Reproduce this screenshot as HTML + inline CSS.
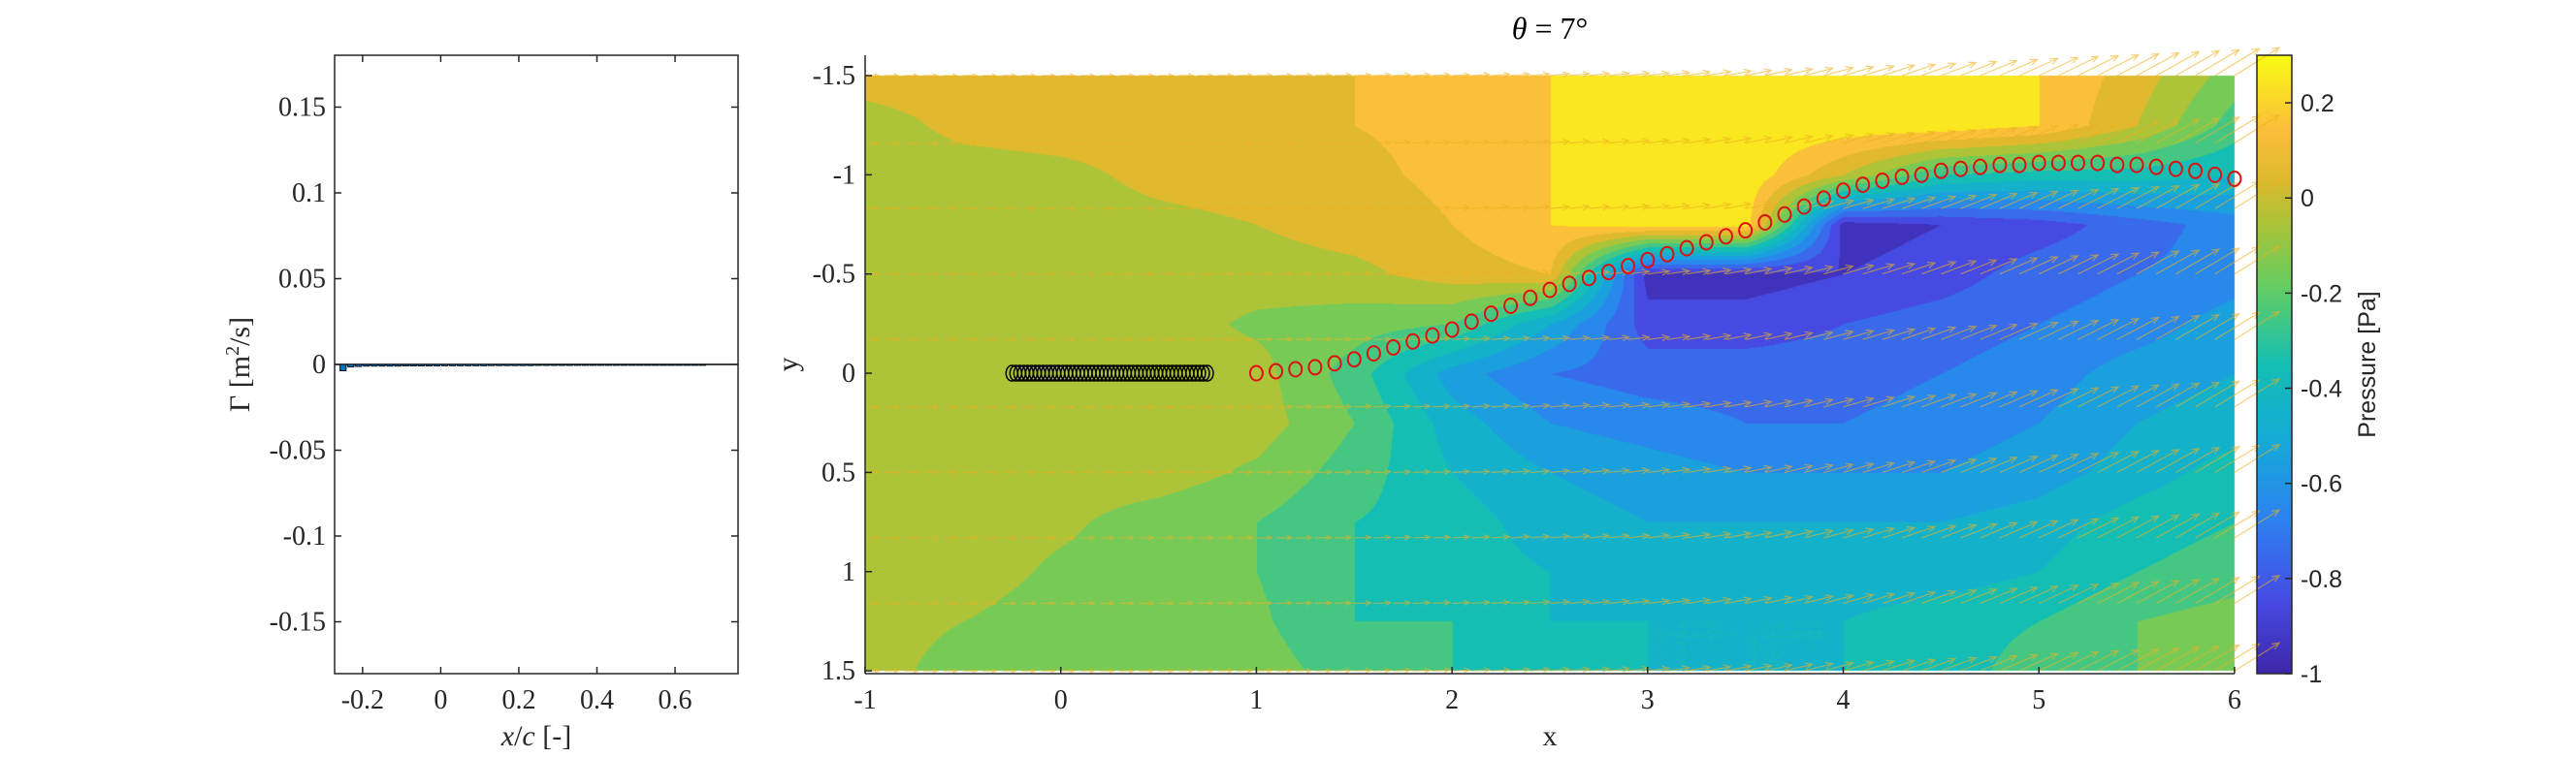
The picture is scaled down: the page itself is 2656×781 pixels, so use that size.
<!DOCTYPE html>
<html><head><meta charset="utf-8"><style>
body{margin:0;background:#fff;}
#wrap{position:relative;width:2656px;height:781px;overflow:hidden;}
canvas,svg{position:absolute;left:0;top:0;}
</style></head><body>
<div id="wrap">
<canvas id="cv" width="2656" height="781"></canvas>
<svg id="sv" width="2656" height="781" xmlns="http://www.w3.org/2000/svg"></svg>
</div>
<script>
// ---------- data ----------
const barX=[-0.25,-0.23,-0.21,-0.19,-0.17,-0.15,-0.13,-0.11,-0.09,-0.07,-0.05,-0.03,-0.01,0.01,0.03,0.05,0.07,0.09,0.11,0.13,0.15,0.17,0.19,0.21,0.23,0.25,0.27,0.29,0.31,0.33,0.35,0.37,0.39,0.41,0.43,0.45,0.47,0.49,0.51,0.53,0.55,0.57,0.59,0.61,0.63,0.65,0.67];
const barVals=[-0.0037,-0.0015,-0.0012,-0.001,-0.001,-0.001,-0.001,-0.001,-0.0009,-0.0009,-0.0009,-0.0009,-0.0009,-0.0008,-0.0008,-0.0008,-0.0008,-0.0008,-0.0008,-0.0007,-0.0007,-0.0007,-0.0007,-0.0007,-0.0007,-0.0006,-0.0006,-0.0006,-0.0006,-0.0006,-0.0005,-0.0005,-0.0005,-0.0005,-0.0005,-0.0004,-0.0004,-0.0004,-0.0004,-0.0004,-0.0004,-0.0003,-0.0003,-0.0003,-0.0003,-0.0003,-0.0003];
const leftXTicks=[-0.2,0,0.2,0.4,0.6];
const leftYTicks=[0.15,0.1,0.05,0,-0.05,-0.1,-0.15];
const leftYLabels=["0.15","0.1","0.05","0","-0.05","-0.1","-0.15"];
const gridX=[-1,-0.5,0,0.5,1,1.5,2,2.5,3,3.5,4,4.5,5,5.5,6];
const gridY=[-1.5,-1.25,-1,-0.75,-0.5,-0.25,0,0.25,0.5,0.75,1,1.25,1.5];
const pressure=[
[0.05,0.05,0.05,0.05,0.05,0.1,0.12,0.2,0.28,0.28,0.28,0.28,0.2,0.05,-0.15],
[-0.05,0.03,0.05,0.05,0.05,0.1,0.12,0.2,0.28,0.28,0.27,0.27,0.2,0.0,-0.25],
[-0.05,-0.05,-0.03,0.03,0.05,0.08,0.12,0.2,0.28,0.28,0.0,-0.3,-0.35,-0.35,-0.4],
[-0.05,-0.05,-0.05,-0.03,0.0,0.05,0.1,0.2,0.25,0.25,-0.95,-0.9,-0.85,-0.75,-0.65],
[-0.05,-0.05,-0.05,-0.05,-0.05,-0.03,0.05,0.1,-0.95,-0.95,-0.9,-0.85,-0.75,-0.7,-0.65],
[-0.05,-0.05,-0.05,-0.05,-0.12,-0.15,-0.2,-0.5,-0.85,-0.85,-0.8,-0.75,-0.7,-0.65,-0.55],
[-0.05,-0.05,-0.05,-0.05,-0.06,-0.25,-0.55,-0.7,-0.75,-0.75,-0.75,-0.7,-0.65,-0.55,-0.5],
[-0.05,-0.05,-0.05,-0.05,-0.05,-0.2,-0.45,-0.6,-0.65,-0.7,-0.7,-0.65,-0.6,-0.5,-0.45],
[-0.05,-0.05,-0.05,-0.05,-0.12,-0.25,-0.4,-0.5,-0.55,-0.6,-0.6,-0.6,-0.55,-0.45,-0.35],
[-0.05,-0.05,-0.08,-0.15,-0.2,-0.3,-0.35,-0.45,-0.5,-0.5,-0.5,-0.5,-0.45,-0.35,-0.3],
[-0.05,-0.05,-0.12,-0.15,-0.2,-0.3,-0.35,-0.4,-0.45,-0.45,-0.45,-0.45,-0.4,-0.3,-0.25],
[-0.05,-0.1,-0.15,-0.15,-0.18,-0.3,-0.3,-0.4,-0.4,-0.4,-0.4,-0.35,-0.3,-0.2,-0.15],
[-0.05,-0.15,-0.15,-0.15,-0.15,-0.25,-0.3,-0.35,-0.4,-0.4,-0.4,-0.35,-0.25,-0.2,-0.15]];
const wakeX=[1.0,1.1,1.2,1.3,1.4,1.5,1.6,1.7,1.8,1.9,2.0,2.1,2.2,2.3,2.4,2.5,2.6,2.7,2.8,2.9,3.0,3.1,3.2,3.3,3.4,3.5,3.6,3.7,3.8,3.9,4.0,4.1,4.2,4.3,4.4,4.5,4.6,4.7,4.8,4.9,5.0,5.1,5.2,5.3,5.4,5.5,5.6,5.7,5.8,5.9,6.0];
const wakeY=[0,-0.01,-0.02,-0.03,-0.05,-0.07,-0.1,-0.13,-0.16,-0.19,-0.22,-0.26,-0.3,-0.34,-0.38,-0.42,-0.45,-0.48,-0.51,-0.54,-0.57,-0.6,-0.63,-0.66,-0.69,-0.72,-0.76,-0.8,-0.84,-0.88,-0.92,-0.95,-0.97,-0.99,-1.0,-1.02,-1.03,-1.04,-1.05,-1.05,-1.06,-1.06,-1.06,-1.06,-1.05,-1.05,-1.04,-1.03,-1.02,-1.0,-0.98];
const quiverRows=[-1.5,-1.16,-0.83,-0.5,-0.17,0.17,0.5,0.83,1.16,1.5];
const quiverAngleX=[-1,0,1,2,3,4,5,6];
const quiverAngleDeg=[0,0,-1,-3,-7,-16,-25,-32];
const quiverLen=[0.07,0.07,0.08,0.09,0.11,0.16,0.22,0.27];
const mainXTicks=[-1,0,1,2,3,4,5,6];
const mainYTicks=[-1.5,-1,-0.5,0,0.5,1,1.5];
const cbTicks=[0.2,0,-0.2,-0.4,-0.6,-0.8,-1];
const cbLabels=["0.2","0","-0.2","-0.4","-0.6","-0.8","-1"];

// ---------- scales ----------
const lx=v=>345+(v+0.2717)*402.7, ly=v=>376-v*1770;
const mx=v=>892+(v+1)*201.7, my=v=>78+(v+1.5)*204.7;
const cbY=v=>695-(v+1)*(638/1.3);
const stops=[[0,[62,38,168]],[0.12,[70,75,228]],[0.25,[45,130,240]],[0.375,[20,170,215]],[0.5,[20,190,180]],[0.625,[100,205,100]],[0.72,[165,196,58]],[0.8,[222,185,45]],[0.88,[251,190,58]],[1,[249,251,20]]];
function parula(t){t=Math.max(0,Math.min(1,t));for(let i=1;i<stops.length;i++){if(t<=stops[i][0]){const a=stops[i-1],b=stops[i],f=(t-a[0])/(b[0]-a[0]);return a[1].map((c,k)=>Math.round(c+(b[1][k]-c)*f));}}return stops[stops.length-1][1];}

// ---------- contour canvas ----------
const cv=document.getElementById('cv'),ctx=cv.getContext('2d');
(function(){
 const x0=Math.round(mx(-1)),x1=Math.round(mx(6)),y0=Math.round(my(-1.5)),y1=Math.round(my(1.5));
 const W=x1-x0,H=y1-y0,img=ctx.createImageData(W,H);
 for(let j=0;j<H;j++){
  const yv=-1.5+(j/H)*3;let gi=Math.min(gridY.length-2,Math.floor((yv+1.5)/0.25));const fy=(yv-gridY[gi])/0.25;
  for(let i=0;i<W;i++){
   const xv=-1+(i/W)*7;let gj=Math.min(gridX.length-2,Math.floor((xv+1)/0.5));const fx=(xv-gridX[gj])/0.5;
   const p=pressure[gi][gj]*(1-fx)*(1-fy)+pressure[gi][gj+1]*fx*(1-fy)+pressure[gi+1][gj]*(1-fx)*fy+pressure[gi+1][gj+1]*fx*fy;
   const lev=Math.min(12,Math.floor((p+1)/0.1));const mid=-1+(lev+0.5)*0.1;
   const c=parula((mid+1)/1.3);const k=(j*W+i)*4;
   img.data[k]=c[0];img.data[k+1]=c[1];img.data[k+2]=c[2];img.data[k+3]=255;
  }}
 ctx.putImageData(img,x0,y0);
 for(let y=57;y<695;y++){const v=-1+(695-y)/638*1.3;const c=parula((v+1)/1.3);ctx.fillStyle=`rgb(${c})`;ctx.fillRect(2327,y,36,1);}
})();

// ---------- svg ----------
const NS='http://www.w3.org/2000/svg',sv=document.getElementById('sv');
function el(tag,at,parent){const e=document.createElementNS(NS,tag);for(const k in at)e.setAttribute(k,at[k]);(parent||sv).appendChild(e);return e;}
function txt(s,at,parent){const e=el('text',at,parent);e.textContent=s;return e;}
const SERIF='"Liberation Serif", serif',SANS='"Liberation Sans", sans-serif';

// left panel
const L=el('g',{});


const zero=el('line',{x1:345,x2:761,y1:ly(0),y2:ly(0),stroke:'#000','stroke-width':1.5},L);


barX.forEach((x,i)=>{const v=barVals[i];const w=0.016*402.7;
 const r=el('rect',{x:lx(x)-w/2,y:ly(0),width:w,height:Math.max(1,ly(v)-ly(0)),fill:'#0072BD',stroke:'#000','stroke-width':0.8},L);
 
 });
const lbox=el('rect',{x:345,y:57,width:416,height:638,fill:'none',stroke:'#262626','stroke-width':1.5},L);


leftXTicks.forEach(t=>{const X=lx(t);
 el('line',{x1:X,x2:X,y1:695,y2:688,stroke:'#262626','stroke-width':1.5},L);
 el('line',{x1:X,x2:X,y1:57,y2:64,stroke:'#262626','stroke-width':1.5},L);
 const tl=txt(String(t),{x:X,y:731,'font-family':SERIF,'font-size':28,'text-anchor':'middle',fill:'#262626'},L);
 
 });
leftYTicks.forEach((t,i)=>{const Y=ly(t);
 el('line',{x1:345,x2:352,y1:Y,y2:Y,stroke:'#262626','stroke-width':1.5},L);
 el('line',{x1:761,x2:754,y1:Y,y2:Y,stroke:'#262626','stroke-width':1.5},L);
 const tl=txt(leftYLabels[i],{x:336,y:Y+9,'font-family':SERIF,'font-size':28,'text-anchor':'end',fill:'#262626'},L);
 
 });
const lxl=el('text',{x:553,y:769,'font-family':SERIF,'font-size':30,'text-anchor':'middle',fill:'#262626'},L);
lxl.innerHTML='<tspan font-style="italic">x</tspan>/<tspan font-style="italic">c</tspan> [-]';


const lyl=el('text',{x:0,y:0,transform:'translate(257,376) rotate(-90)','font-family':SERIF,'font-size':30,'text-anchor':'middle',fill:'#262626'},L);
lyl.innerHTML='Γ [m<tspan dy="-11" font-size="20">2</tspan><tspan dy="11">/s]</tspan>';



// main panel quiver
const Q=el('g',{stroke:'rgba(237,177,32,0.6)','stroke-width':1.2,fill:'none'});


function interp(arrX,arrV,x){for(let i=1;i<arrX.length;i++)if(x<=arrX[i]){const f=(x-arrX[i-1])/(arrX[i]-arrX[i-1]);return arrV[i-1]+(arrV[i]-arrV[i-1])*f;}return arrV[arrV.length-1];}
quiverRows.forEach(yr=>{for(let k=0;k<=70;k++){const x=-1+k*0.1;
 const a=interp(quiverAngleX,quiverAngleDeg,x)*Math.PI/180,len=interp(quiverAngleX,quiverLen,x)*201.7;
 const X=mx(x),Y=my(yr),X2=X+len*Math.cos(a),Y2=Y+len*Math.sin(a);
 const h=Math.min(8,len*0.35);
 const p=el('path',{d:`M${X},${Y}L${X2},${Y2}M${X2-h*Math.cos(a-0.4)},${Y2-h*Math.sin(a-0.4)}L${X2},${Y2}L${X2-h*Math.cos(a+0.4)},${Y2-h*Math.sin(a+0.4)}`},Q);
 
 }});

// plate (black circles)
const P=el('g',{stroke:'#000','stroke-width':1.5,fill:'none'});


for(let k=0;k<=50;k++){const c=el('ellipse',{cx:mx(-0.25+k*0.02),cy:my(0),rx:6,ry:8},P);
 
 }
// wake
const Wk=el('g',{stroke:'#e01010','stroke-width':2,fill:'none'});


wakeX.forEach((x,i)=>{const c=el('ellipse',{cx:mx(x),cy:my(wakeY[i]),rx:6.5,ry:7.5},Wk);
 
 });

// main axes
const A=el('g',{stroke:'#262626','stroke-width':1.5});


el('line',{x1:892,x2:892,y1:57,y2:695},A);
el('line',{x1:892,x2:2304,y1:695,y2:695},A);
mainXTicks.forEach(t=>{el('line',{x1:mx(t),x2:mx(t),y1:695,y2:688},A);
 const tl=txt(String(t),{x:mx(t),y:731,'font-family':SERIF,'font-size':28,'text-anchor':'middle',fill:'#262626',stroke:'none'});
 
 });
mainYTicks.forEach(t=>{el('line',{x1:892,x2:899,y1:my(t),y2:my(t)},A);
 const tl=txt(String(t),{x:882,y:my(t)+9,'font-family':SERIF,'font-size':28,'text-anchor':'end',fill:'#262626'});
 
 });
const xt=txt('x',{x:1598,y:769,'font-family':SERIF,'font-size':30,'text-anchor':'middle',fill:'#262626'});


const yt=txt('y',{x:0,y:0,transform:'translate(822,376) rotate(-90)','font-family':SERIF,'font-size':30,'text-anchor':'middle',fill:'#262626'});


const tt=el('text',{x:1598,y:40,'font-family':SERIF,'font-size':32,'text-anchor':'middle',fill:'#000'});
tt.innerHTML='<tspan font-style="italic">θ</tspan> = 7°';



// colorbar
const C=el('g',{});


el('rect',{x:2327,y:57,width:36,height:638,fill:'none',stroke:'#262626','stroke-width':1.5},C);
cbTicks.forEach((t,i)=>{const Y=cbY(t);
 el('line',{x1:2356,x2:2363,y1:Y,y2:Y,stroke:'#262626','stroke-width':1.5},C);
 const tl=txt(cbLabels[i],{x:2372,y:Y+9,'font-family':SANS,'font-size':25,fill:'#262626'},C);
 
 });
const cl=txt('Pressure [Pa]',{x:0,y:0,transform:'translate(2449,376) rotate(-90)','font-family':SANS,'font-size':25,'text-anchor':'middle',fill:'#262626'},C);


</script>
</body></html>
